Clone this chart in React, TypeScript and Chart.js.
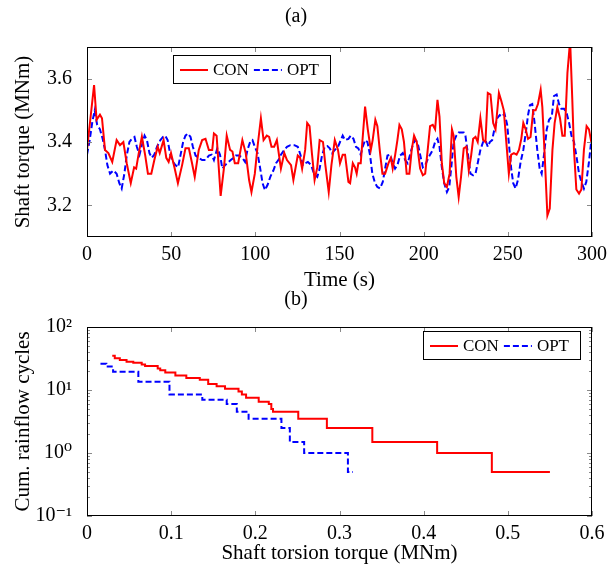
import React, { useEffect, useRef } from 'react';
import { Chart, registerables } from 'chart.js';

Chart.register(...registerables);

const FONT = "'Liberation Serif', 'DejaVu Serif', 'Times New Roman', serif";

// ---- axis ticks ----
const timeTicks = [0, 50, 100, 150, 200, 250, 300];
const torqueTicks = [3.2, 3.4, 3.6];
const rangeTicks = [0, 0.1, 0.2, 0.3, 0.4, 0.5, 0.6];
const cycleTicks = [0.1, 1, 10, 100];
const cycleTickLabels = ['10⁻¹', '10⁰', '10¹', '10²'];
const seriesLabels = ['CON', 'OPT'];

// ---- (a) shaft torque time series: [time s, torque MNm] ----
const conTorque: [number, number][] = [
  [0, 3.375], [4.2, 3.58], [5.7, 3.47], [7.7, 3.486], [8.9, 3.475], [10.7, 3.375], [12.7, 3.365], [15, 3.337],
  [17.6, 3.406], [19.6, 3.39], [21.6, 3.4], [23.6, 3.333], [26, 3.27], [28, 3.32], [29.2, 3.316], [30.6, 3.36],
  [32.6, 3.417], [34.6, 3.357], [36.2, 3.3], [38.2, 3.3], [40, 3.343], [42, 3.385], [43.2, 3.365], [45.5, 3.406],
  [47.1, 3.35], [48.5, 3.337], [49.9, 3.365], [52.1, 3.316], [54, 3.27], [56.5, 3.327], [58.5, 3.38], [60.5, 3.38],
  [62.4, 3.333], [64, 3.29], [66.4, 3.375], [68.4, 3.406], [70.4, 3.41], [72.4, 3.375], [74.4, 3.375], [75.4, 3.427],
  [77, 3.42], [79.4, 3.23], [81.4, 3.32], [83, 3.42], [85, 3.375], [86.4, 3.37], [87.8, 3.333], [89.8, 3.333],
  [92.3, 3.406], [94.3, 3.365], [96.3, 3.28], [97.7, 3.242], [99.7, 3.3], [101.3, 3.385], [103.3, 3.475], [104.9, 3.406],
  [106.8, 3.42], [108.2, 3.416], [109.6, 3.385], [111.2, 3.385], [112.8, 3.406], [115.2, 3.316], [117.2, 3.365], [118.8, 3.343],
  [121.2, 3.327], [122.6, 3.28], [125.2, 3.357], [126.6, 3.35], [127.8, 3.316], [129.6, 3.375], [130.8, 3.46], [132.2, 3.45],
  [133.6, 3.365], [135.2, 3.28], [136.8, 3.32], [138.2, 3.406], [140.2, 3.4], [141.6, 3.327], [143.6, 3.242], [145.2, 3.327],
  [147.2, 3.406], [149.1, 3.375], [150.3, 3.333], [151.9, 3.36], [153.3, 3.36], [155.3, 3.274], [156.3, 3.27], [157.9, 3.333],
  [159.2, 3.32], [160.2, 3.3], [161.2, 3.333], [162.6, 3.333], [165.2, 3.512], [166.8, 3.44], [168.6, 3.375], [169.7, 3.406],
  [171.3, 3.47], [172.5, 3.45], [174.1, 3.365], [175.5, 3.3], [177.1, 3.3], [179.1, 3.333], [180.5, 3.35], [181.6, 3.316],
  [183, 3.357], [184.4, 3.406], [185.6, 3.454], [187, 3.44], [188.3, 3.4], [189.9, 3.3], [191.5, 3.3], [192.9, 3.375],
  [194.3, 3.42], [195.9, 3.4], [197.9, 3.316], [199.5, 3.295], [200.9, 3.3], [202.2, 3.365], [203.8, 3.45], [205.4, 3.454],
  [206.8, 3.44], [208.2, 3.533], [209.4, 3.48], [210.8, 3.333], [212.2, 3.27], [213.8, 3.258], [215.4, 3.3], [216.8, 3.44],
  [217.8, 3.42], [219.4, 3.29], [220.8, 3.226], [222.2, 3.29], [223.8, 3.38], [225.4, 3.385], [226.8, 3.31], [228.2, 3.357],
  [229.4, 3.41], [230.8, 3.416], [232.1, 3.4], [233.7, 3.475], [235.3, 3.406], [236.7, 3.4], [238.1, 3.555], [239.7, 3.55],
  [241.3, 3.46], [242.7, 3.44], [244.7, 3.555], [246.1, 3.53], [247.6, 3.5], [249, 3.406], [250.6, 3.3], [252, 3.36],
  [253.6, 3.365], [255.2, 3.36], [256.6, 3.375], [258, 3.41], [259.2, 3.46], [260.6, 3.44], [262, 3.41], [263.5, 3.416],
  [265.1, 3.5], [266.5, 3.5], [267.9, 3.52], [269.5, 3.565], [270.5, 3.51], [271.9, 3.357], [273.5, 3.168], [274.9, 3.19],
  [276.5, 3.375], [277.8, 3.46], [279.4, 3.51], [281, 3.475], [282.4, 3.42], [283.8, 3.42], [285.4, 3.618], [287, 3.72],
  [288.3, 3.533], [289.3, 3.375], [290.7, 3.25], [292.3, 3.237], [293.7, 3.25], [295.2, 3.375], [296.8, 3.45], [298.2, 3.44],
  [299.6, 3.4],
];

const optTorque: [number, number][] = [
  [0, 3.36], [1.6, 3.406], [3.2, 3.465], [4.6, 3.5], [6, 3.455], [7.7, 3.44], [9.3, 3.41], [10.7, 3.375],
  [12.1, 3.327], [13.7, 3.3], [15.7, 3.31], [17.6, 3.3], [19.2, 3.27], [20.6, 3.253], [22.2, 3.3], [23.6, 3.357],
  [25.2, 3.4], [26.6, 3.41], [28.2, 3.416], [29.6, 3.385], [31.2, 3.36], [32.6, 3.39], [34.2, 3.42], [35.6, 3.406],
  [37.1, 3.365], [38.5, 3.35], [40, 3.36], [41.6, 3.385], [43.6, 3.406], [45.1, 3.416], [46.5, 3.42], [47.9, 3.406],
  [49.5, 3.36], [51.1, 3.337], [52.5, 3.327], [54.1, 3.32], [55.5, 3.357], [57.1, 3.4], [58.5, 3.42], [59.9, 3.427],
  [61.5, 3.416], [62.9, 3.385], [64.5, 3.357], [66.4, 3.35], [68.4, 3.343], [70.4, 3.343], [72.4, 3.357], [74, 3.36],
  [75.4, 3.343], [77.4, 3.38], [79, 3.36], [80.4, 3.316], [82, 3.327], [83.4, 3.333], [85.4, 3.343], [87, 3.35],
  [88.4, 3.357], [90.4, 3.357], [92.3, 3.35], [93.9, 3.337], [95.3, 3.375], [96.9, 3.4], [98.3, 3.406], [99.7, 3.385],
  [101.3, 3.365], [102.9, 3.316], [104.3, 3.27], [105.7, 3.248], [107.3, 3.265], [108.9, 3.29], [110.7, 3.31], [112.3, 3.333],
  [113.7, 3.343], [115.2, 3.36], [117.2, 3.375], [118.8, 3.385], [120.8, 3.39], [123.2, 3.39], [125.2, 3.385], [126.8, 3.36],
  [128.2, 3.327], [129.6, 3.333], [131.2, 3.337], [133.2, 3.327], [134.8, 3.3], [136.8, 3.29], [138.2, 3.316], [139.6, 3.357],
  [141.2, 3.385], [142.8, 3.387], [144.2, 3.38], [145.6, 3.365], [147.2, 3.375], [149.1, 3.385], [150.3, 3.4], [151.9, 3.42],
  [153.3, 3.406], [155.3, 3.41], [156.7, 3.42], [158.3, 3.41], [159.8, 3.385], [161.2, 3.38], [162.6, 3.36], [163.8, 3.385],
  [165.2, 3.406], [166.6, 3.4], [168.2, 3.357], [169.5, 3.3], [171.1, 3.27], [172.5, 3.258], [174.1, 3.253], [175.7, 3.274],
  [177.1, 3.316], [178.5, 3.357], [180.1, 3.36], [181.6, 3.333], [183, 3.316], [184.4, 3.327], [186, 3.357], [187.6, 3.365],
  [189, 3.343], [190.5, 3.333], [191.9, 3.36], [193.5, 3.39], [194.9, 3.406], [196.3, 3.4], [197.9, 3.36], [199.5, 3.32],
  [200.9, 3.327], [202.2, 3.343], [203.8, 3.36], [205.4, 3.375], [206.8, 3.4], [208.2, 3.41], [209.4, 3.385], [210.8, 3.32],
  [212.2, 3.27], [213.8, 3.242], [215.2, 3.258], [216.4, 3.32], [217.8, 3.4], [219.4, 3.42], [220.8, 3.43], [222.2, 3.43],
  [223.8, 3.43], [224.8, 3.42], [226.2, 3.365], [227.8, 3.3], [229.4, 3.295], [230.8, 3.3], [232.1, 3.333], [233.7, 3.375],
  [235.3, 3.4], [236.7, 3.406], [238.1, 3.385], [239.3, 3.4], [240.7, 3.406], [242, 3.44], [243.7, 3.475], [245.2, 3.485],
  [246.6, 3.48], [248, 3.49], [249.6, 3.455], [250.8, 3.385], [252, 3.316], [253.2, 3.27], [254.6, 3.253], [256, 3.28],
  [257.6, 3.337], [259.2, 3.375], [260.6, 3.427], [262, 3.485], [263.1, 3.516], [264.5, 3.52], [265.9, 3.46], [267.5, 3.375],
  [268.9, 3.316], [270.1, 3.3], [271.5, 3.36], [273.1, 3.44], [274.5, 3.47], [276.1, 3.48], [277.4, 3.545], [279, 3.55],
  [280.4, 3.52], [281.8, 3.505], [283.4, 3.505], [285, 3.49], [286.4, 3.46], [287.8, 3.42], [289.3, 3.4], [290.9, 3.35],
  [292.3, 3.3], [293.7, 3.274], [295.2, 3.253], [296.6, 3.274], [298.2, 3.337], [299.6, 3.406],
];

// ---- (b) cumulative rainflow cycles: [torsion range MNm, cumulative cycles] ----
const conCycles: [number, number][] = [
  [0.03, 35], [0.033, 32], [0.039, 30], [0.047, 28], [0.055, 27], [0.065, 25.5], [0.069, 24], [0.084, 22],
  [0.087, 20.5], [0.093, 19], [0.105, 17], [0.118, 15.5], [0.134, 14.5], [0.144, 12.5], [0.154, 11.5], [0.164, 10.5],
  [0.18, 9.5], [0.184, 8.5], [0.189, 7.5], [0.204, 6.5], [0.216, 6], [0.219, 5], [0.221, 4.5], [0.251, 3.5],
  [0.285, 2.5], [0.339, 1.5], [0.416, 1], [0.481, 0.5], [0.55, 0.5],
];

const optCycles: [number, number][] = [
  [0.016, 26], [0.023, 23.5], [0.031, 19.5], [0.061, 13.5], [0.098, 8.5], [0.137, 7], [0.166, 6], [0.178, 4.5],
  [0.192, 3.5], [0.231, 2.5], [0.241, 1.5], [0.258, 1], [0.31, 0.5], [0.316, 0.5],
];

const RED = '#ff0000';
const BLUE = '#0000ff';
const DASH = [6, 3];

const toXY = (arr: [number, number][]) => arr.map(([x, y]) => ({ x, y }));

const framePlugin = {
  id: 'frame',
  afterDatasetsDraw(chart: any, _args: any, opts: any) {
    const { ctx, chartArea } = chart;
    const { left, right, top, bottom } = chartArea;
    const xs = chart.scales.x;
    const ys = chart.scales.y;
    ctx.save();
    const seg = (x1: number, y1: number, x2: number, y2: number) => {
      ctx.beginPath();
      ctx.moveTo(x1, y1);
      ctx.lineTo(x2, y2);
      ctx.stroke();
    };
    ctx.lineWidth = 1;
    ctx.strokeStyle = '#8a8a8a';
    const L = 5;
    xs.ticks.forEach((t: any) => {
      const px = Math.round(xs.getPixelForValue(t.value)) + 0.5;
      seg(px, bottom, px, bottom - L);
      seg(px, top, px, top + L);
    });
    ys.ticks.forEach((t: any) => {
      const py = Math.round(ys.getPixelForValue(t.value)) + 0.5;
      seg(left, py, left + L, py);
      seg(right, py, right - L, py);
    });
    if (ys.type === 'logarithmic') {
      const k0 = Math.floor(Math.log10(ys.min));
      const k1 = Math.ceil(Math.log10(ys.max));
      for (let k = k0; k <= k1; k++) {
        for (let m = 2; m <= 9; m++) {
          const v = m * Math.pow(10, k);
          if (v <= ys.min || v >= ys.max) continue;
          const py = Math.round(ys.getPixelForValue(v)) + 0.5;
          seg(left, py, left + 3, py);
          seg(right, py, right - 3, py);
        }
      }
    }
    ctx.strokeStyle = '#000';
    ctx.strokeRect(left + 0.5, top + 0.5, right - left - 1, bottom - top - 1);

    // legend box
    const lg = opts.legend;
    if (lg) {
      const bw = 158, bh = 29;
      const bx = lg.fromRight != null ? right - lg.fromRight - bw : left + lg.fromLeft;
      const by = top + lg.fromTop;
      ctx.fillStyle = '#fff';
      ctx.fillRect(bx, by, bw, bh);
      ctx.strokeStyle = '#000';
      ctx.strokeRect(bx + 0.5, by + 0.5, bw - 1, bh - 1);
      ctx.font = `17px ${FONT}`;
      ctx.textBaseline = 'middle';
      ctx.textAlign = 'left';
      const cy = by + bh / 2 + 0.5;
      let x = bx + 7;
      chart.data.datasets.forEach((ds: any) => {
        ctx.strokeStyle = ds.borderColor;
        ctx.lineWidth = 2;
        ctx.setLineDash(ds.borderDash || []);
        seg(x, cy, x + 28, cy);
        ctx.setLineDash([]);
        x += 33;
        ctx.fillStyle = '#000';
        ctx.fillText(ds.label, x, cy + 1);
        x += ctx.measureText(ds.label).width + 5;
      });
    }
    ctx.restore();
  },
};

const tickFont = { family: FONT, size: 20 };
const titleFont = { family: FONT, size: 21 };

function makeTorqueChart(canvas: HTMLCanvasElement) {
  return new Chart(canvas, {
    type: 'line',
    data: {
      datasets: [
        { label: seriesLabels[0], data: toXY(conTorque), borderColor: RED, borderWidth: 2, pointRadius: 0, tension: 0, fill: false },
        { label: seriesLabels[1], data: toXY(optTorque), borderColor: BLUE, borderWidth: 2, borderDash: DASH, pointRadius: 0, tension: 0, fill: false },
      ],
    },
    options: {
      animation: false,
      responsive: false,
      events: [],
      layout: { padding: { left: 0, right: 24, top: 0, bottom: 0 } },
      plugins: {
        legend: { display: false },
        tooltip: { enabled: false },
        title: { display: true, text: '(a)', color: '#000', font: { family: FONT, size: 20, weight: 'normal' }, padding: { top: 5, bottom: 18 } },
        frame: { legend: { fromLeft: 86, fromTop: 8 } },
      } as any,
      scales: {
        x: {
          type: 'linear', min: 0, max: 300,
          grid: { display: false }, border: { display: false },
          afterBuildTicks: (s: any) => { s.ticks = timeTicks.map((v) => ({ value: v })); },
          afterFit: (s: any) => { s.height = 59; },
          ticks: { padding: -2, maxRotation: 0, autoSkip: false, color: '#000', font: tickFont },
          title: { display: true, text: 'Time (s)', color: '#000', font: titleFont, padding: { top: 0, bottom: 3.4 } },
        },
        y: {
          type: 'linear', min: 3.1, max: 3.7,
          grid: { display: false }, border: { display: false },
          afterBuildTicks: (s: any) => { s.ticks = torqueTicks.map((v) => ({ value: v })); },
          afterFit: (s: any) => { s.width = 87; },
          ticks: { padding: 7, color: '#000', font: tickFont, callback: (v: any) => Number(v).toFixed(1) },
          title: { display: true, text: 'Shaft torque (MNm)', color: '#000', font: titleFont, padding: { top: 10.4, bottom: 0 } },
        },
      },
    } as any,
    plugins: [framePlugin as any],
  });
}

function makeCycleChart(canvas: HTMLCanvasElement) {
  return new Chart(canvas, {
    type: 'line',
    data: {
      datasets: [
        { label: seriesLabels[0], data: toXY(conCycles), borderColor: RED, borderWidth: 2, pointRadius: 0, stepped: 'before', fill: false },
        { label: seriesLabels[1], data: toXY(optCycles), borderColor: BLUE, borderWidth: 2, borderDash: DASH, pointRadius: 0, stepped: 'before', fill: false },
      ],
    },
    options: {
      animation: false,
      responsive: false,
      events: [],
      layout: { padding: { left: 0, right: 24, top: 0, bottom: 0 } },
      plugins: {
        legend: { display: false },
        tooltip: { enabled: false },
        title: { display: true, text: '(b)', color: '#000', font: { family: FONT, size: 20, weight: 'normal' }, padding: { top: 4, bottom: 15 } },
        frame: { legend: { fromRight: 11, fromTop: 4 } },
      } as any,
      scales: {
        x: {
          type: 'linear', min: 0, max: 0.6,
          grid: { display: false }, border: { display: false },
          afterBuildTicks: (s: any) => { s.ticks = rangeTicks.map((v) => ({ value: v })); },
          afterFit: (s: any) => { s.height = 52; },
          ticks: { padding: -2, maxRotation: 0, autoSkip: false, color: '#000', font: tickFont, callback: (v: any) => (Number(v) === 0 ? '0' : Number(v).toFixed(1)) },
          title: { display: true, text: 'Shaft torsion torque (MNm)', color: '#000', font: titleFont, padding: { top: 0, bottom: 1.6 } },
        },
        y: {
          type: 'logarithmic', min: 0.1, max: 100,
          grid: { display: false }, border: { display: false },
          afterBuildTicks: (s: any) => { s.ticks = cycleTicks.map((v) => ({ value: v })); },
          afterFit: (s: any) => { s.width = 87; },
          ticks: { padding: 7, color: '#000', font: tickFont, callback: (_v: any, i: number) => cycleTickLabels[i] },
          title: { display: true, text: 'Cum. rainflow cycles', color: '#000', font: titleFont, padding: { top: 10.4, bottom: 0 } },
        },
      },
    } as any,
    plugins: [framePlugin as any],
  });
}

export default function App() {
  const topRef = useRef<HTMLCanvasElement>(null);
  const botRef = useRef<HTMLCanvasElement>(null);
  useEffect(() => {
    const a = makeTorqueChart(topRef.current!);
    const b = makeCycleChart(botRef.current!);
    return () => {
      a.destroy();
      b.destroy();
    };
  }, []);
  return (
    <div style={{ position: 'absolute', left: 0, top: 0, width: 616, height: 568, background: '#fff' }}>
      <canvas ref={topRef} width={616} height={296} style={{ position: 'absolute', left: 0, top: 0 }} />
      <canvas ref={botRef} width={616} height={284} style={{ position: 'absolute', left: 0, top: 284 }} />
    </div>
  );
}
